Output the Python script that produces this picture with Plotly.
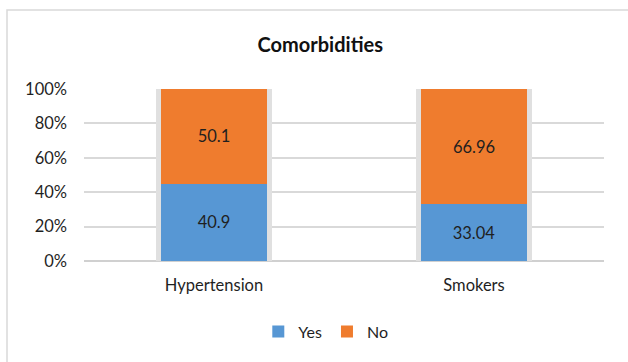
import plotly.graph_objects as go

categories = ["Hypertension", "Smokers"]
yes_values = [40.9, 33.04]
no_values = [50.1, 66.96]
tick_values = [0, 20, 40, 60, 80, 100]
tick_labels = ["0%", "20%", "40%", "60%", "80%", "100%"]

FONT = "Lato"
TEXT = "#1f1f1f"
BAR_WIDTH = 0.41

totals = [y + n for y, n in zip(yes_values, no_values)]

fig = go.Figure()
# soft grey backdrop behind each column (drop-shadow look)
fig.add_trace(go.Bar(
    x=categories, y=totals, width=BAR_WIDTH + 0.035,
    marker=dict(color="#e0e0e0", line=dict(width=0)),
    showlegend=False, hoverinfo="skip", xaxis="x", yaxis="y",
))
fig.add_trace(go.Bar(
    name="Yes", x=categories, y=yes_values, width=BAR_WIDTH,
    text=yes_values, texttemplate="%{text}", textposition="inside",
    insidetextanchor="middle",
    textfont=dict(family=FONT, size=16.5, color=TEXT),
    marker=dict(color="#5797d4", line=dict(width=0)),
    xaxis="x2", yaxis="y2",
))
fig.add_trace(go.Bar(
    name="No", x=categories, y=no_values, width=BAR_WIDTH,
    text=no_values, texttemplate="%{text}", textposition="inside",
    insidetextanchor="middle",
    textfont=dict(family=FONT, size=16.5, color=TEXT),
    marker=dict(color="#ef7c2e", line=dict(width=0)),
    xaxis="x2", yaxis="y2",
))

fig.update_layout(
    barmode="stack",
    barnorm="percent",
    width=628, height=362,
    margin=dict(l=84, r=24, t=89, b=101),
    paper_bgcolor="white",
    plot_bgcolor="white",
    font=dict(family=FONT, size=16, color=TEXT),
    title=dict(text="<b>Comorbidities</b>", x=0.51, xanchor="center",
               y=1 - 45 / 362, yanchor="middle",
               font=dict(family=FONT, size=20, color="#111111")),
    legend=dict(orientation="h", x=0.465, xanchor="center", y=-0.41,
                yanchor="middle", font=dict(family=FONT, size=16),
                itemwidth=30, traceorder="normal"),
    xaxis=dict(showgrid=False, showline=False, ticks="",
               ticklabelstandoff=12,
               tickfont=dict(family=FONT, size=16.5)),
    yaxis=dict(range=[0, 100], tickvals=tick_values, ticktext=tick_labels,
               showgrid=True, gridcolor="#d9d9d9", gridwidth=1.5,
               zeroline=True, zerolinecolor="#d0d0d0", zerolinewidth=1.5,
               showline=False, ticks="", ticklabelstandoff=16,
               tickfont=dict(family=FONT, size=16.5)),
    xaxis2=dict(overlaying="x", matches="x", showticklabels=False,
                showgrid=False, showline=False, ticks=""),
    yaxis2=dict(overlaying="y", matches="y", range=[0, 100],
                showticklabels=False, showgrid=False, zeroline=False,
                showline=False, ticks=""),
    shapes=[dict(type="rect", xref="paper", yref="paper",
                 x0=(7 - 84) / 520, x1=1.2, y0=-0.7, y1=(261 - 10) / 172,
                 line=dict(color="#d9d9d9", width=1.5), fillcolor="rgba(0,0,0,0)",
                 layer="below")],
)

fig.write_html("out.html")
